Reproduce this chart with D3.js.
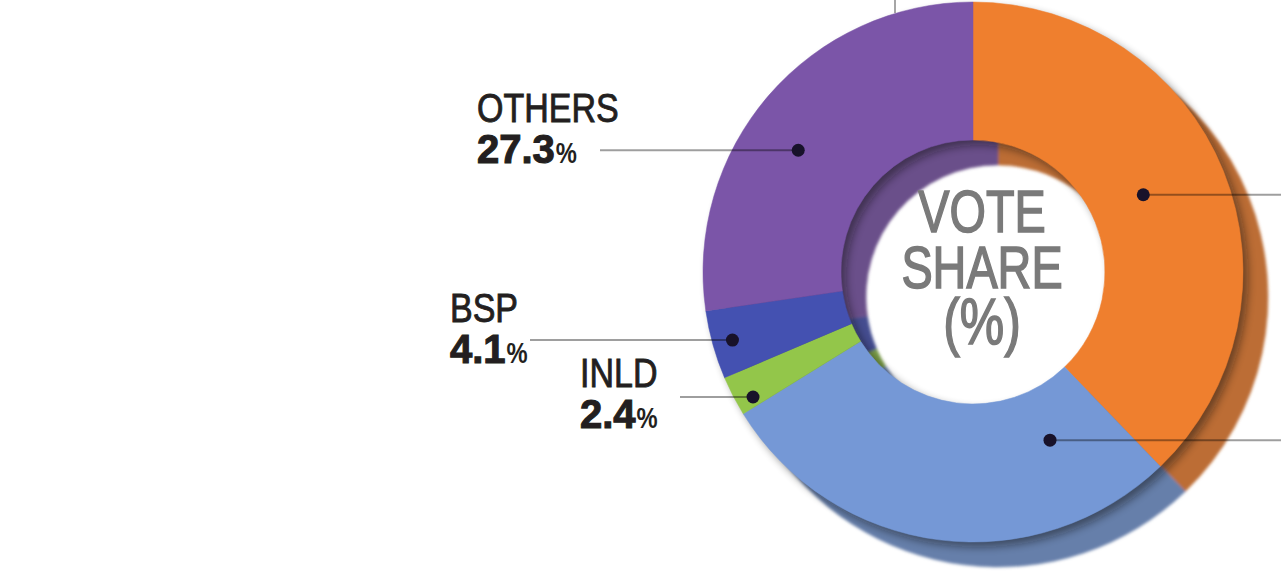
<!DOCTYPE html>
<html><head><meta charset="utf-8">
<script src="https://cdn.jsdelivr.net/npm/d3@7"></script>
<style>html,body{margin:0;padding:0;background:#fff;overflow:hidden;} svg{display:block;}</style>
</head><body>
<svg id="chart" width="1281" height="585"></svg>
<script>
// ---- data ----
const parties = ["BJP", "INC", "INLD", "BSP", "OTHERS"];
const shares = [37.8, 28.4, 2.4, 4.1, 27.3];
const sliceColors = ["#ef7f2e", "#7598d6", "#93c64a", "#4451b1", "#7b55a8"];
const shownValues = [null, null, "2.4", "4.1", "27.3"];
const centerLines = ["VOTE", "SHARE", "(%)"];

// ---- layout ----
const W = 1281, H = 585;
const cx = 973, cy = 272, R = 270, r = 132, depth = 25;
const narrow = 0.85;        // horizontal squeeze to mimic a condensed face
const FONT = "'Liberation Sans', Arial, sans-serif";
// where the marker dot sits inside each slice (fraction of its sweep, radius)
const dotLayout = [
  {f: 0.482, rad: 187}, {f: 0.189, rad: 185}, {f: 0.24, rad: 253},
  {f: 0.49, rad: 250}, {f: 0.439, rad: 213}
];
// left-side label placement (null = label runs off to the right)
const labelLayout = [
  null, null,
  {x: 580, lineX: 680, nameDy: -10, valueDy: 31},
  {x: 450, lineX: 530, nameDy: -18, valueDy: 23},
  {x: 477, lineX: 600, nameDy: -28, valueDy: 13}
];

const svg = d3.select("#chart");
const defs = svg.append("defs");
defs.append("filter").attr("id", "soft").attr("x", "-10%").attr("y", "-10%").attr("width", "120%").attr("height", "120%")
  .append("feGaussianBlur").attr("stdDeviation", 1.6);
defs.append("filter").attr("id", "blurDark").attr("x", "-10%").attr("y", "-10%").attr("width", "120%").attr("height", "120%")
  .append("feGaussianBlur").attr("stdDeviation", 4);

const pie = d3.pie().sort(null).value(d => d.v).startAngle(0).endAngle(2 * Math.PI);
const data = parties.map((p, i) => ({name: p, v: shares[i], color: sliceColors[i], i}));
const arcs = pie(data);
const arc = d3.arc().innerRadius(r).outerRadius(R);

// extruded side / shadow
const shadow = svg.append("g").attr("transform", `translate(${cx + depth},${cy + depth})`).attr("filter", "url(#soft)");
shadow.selectAll("path").data(arcs).join("path")
  .attr("d", arc)
  .attr("fill", d => d3.interpolateRgb(d.data.color, "#444")(0.3))
  .attr("stroke", d => d3.interpolateRgb(d.data.color, "#444")(0.3))
  .attr("stroke-width", 0.5);

// dark junction
const dark = svg.append("g").attr("transform", `translate(${cx + 5},${cy + 5})`).attr("filter", "url(#blurDark)").attr("opacity", 0.45);
dark.selectAll("path").data(arcs).join("path").attr("d", arc).attr("fill", "#111");

// front face
const front = svg.append("g").attr("transform", `translate(${cx},${cy})`);
front.selectAll("path").data(arcs).join("path")
  .attr("d", arc)
  .attr("fill", d => d.data.color)
  .attr("stroke", d => d.data.color)
  .attr("stroke-width", 0.5);

// dots
const dots = arcs.map((a, i) => {
  const ang = a.startAngle + dotLayout[i].f * (a.endAngle - a.startAngle);
  return {x: cx + dotLayout[i].rad * Math.sin(ang), y: cy - dotLayout[i].rad * Math.cos(ang), i};
});

// leader lines
const lines = svg.append("g");
dots.forEach(d => {
  const L = labelLayout[d.i];
  lines.append("line")
    .attr("x1", L ? L.lineX : W).attr("x2", d.x)
    .attr("y1", d.y).attr("y2", d.y)
    .attr("stroke", "#000").attr("stroke-opacity", 0.38).attr("stroke-width", 2);
});
// short leader coming from a label above the frame
lines.append("line").attr("x1", 895).attr("x2", 895).attr("y1", 0).attr("y2", 13)
  .attr("stroke", "#000").attr("stroke-opacity", 0.35).attr("stroke-width", 2);

svg.append("g").selectAll("circle").data(dots).join("circle")
  .attr("cx", d => d.x).attr("cy", d => d.y).attr("r", 6.5).attr("fill", "#18122a");

// labels
const labels = svg.append("g").attr("fill", "#231f20").attr("font-family", FONT);
dots.forEach(d => {
  const L = labelLayout[d.i];
  if (!L) return;
  labels.append("text")
    .attr("transform", `translate(${L.x},${d.y + L.nameDy}) scale(${narrow},1)`)
    .attr("font-size", 40).attr("stroke", "#231f20").attr("stroke-width", 0.9)
    .text(parties[d.i]);
  const num = labels.append("text")
    .attr("x", L.x).attr("y", d.y + L.valueDy)
    .attr("font-weight", "bold").attr("font-size", 40)
    .attr("stroke", "#231f20").attr("stroke-width", 1.1)
    .text(shownValues[d.i]);
  const w = num.node().getComputedTextLength();
  labels.append("text")
    .attr("transform", `translate(${L.x + w + 1},${d.y + L.valueDy}) scale(0.82,1)`)
    .attr("font-weight", "bold").attr("font-size", 29)
    .text("%");
});

// centre title (one text block, three lines)
const centerX = cx + 9;
const ct = svg.append("text")
  .attr("transform", `translate(${centerX},0) scale(0.78,1)`)
  .attr("fill", "#7a7a7a").attr("stroke", "#7a7a7a").attr("stroke-width", 1.6)
  .attr("font-family", FONT).attr("font-size", 60).attr("text-anchor", "middle");
centerLines.forEach((s, i) => {
  ct.append("tspan").attr("x", 0).attr("y", 232 + i * 56)
    .attr("font-size", i === 2 ? 64 : 60)
    .text(s);
});
</script>
</body></html>
